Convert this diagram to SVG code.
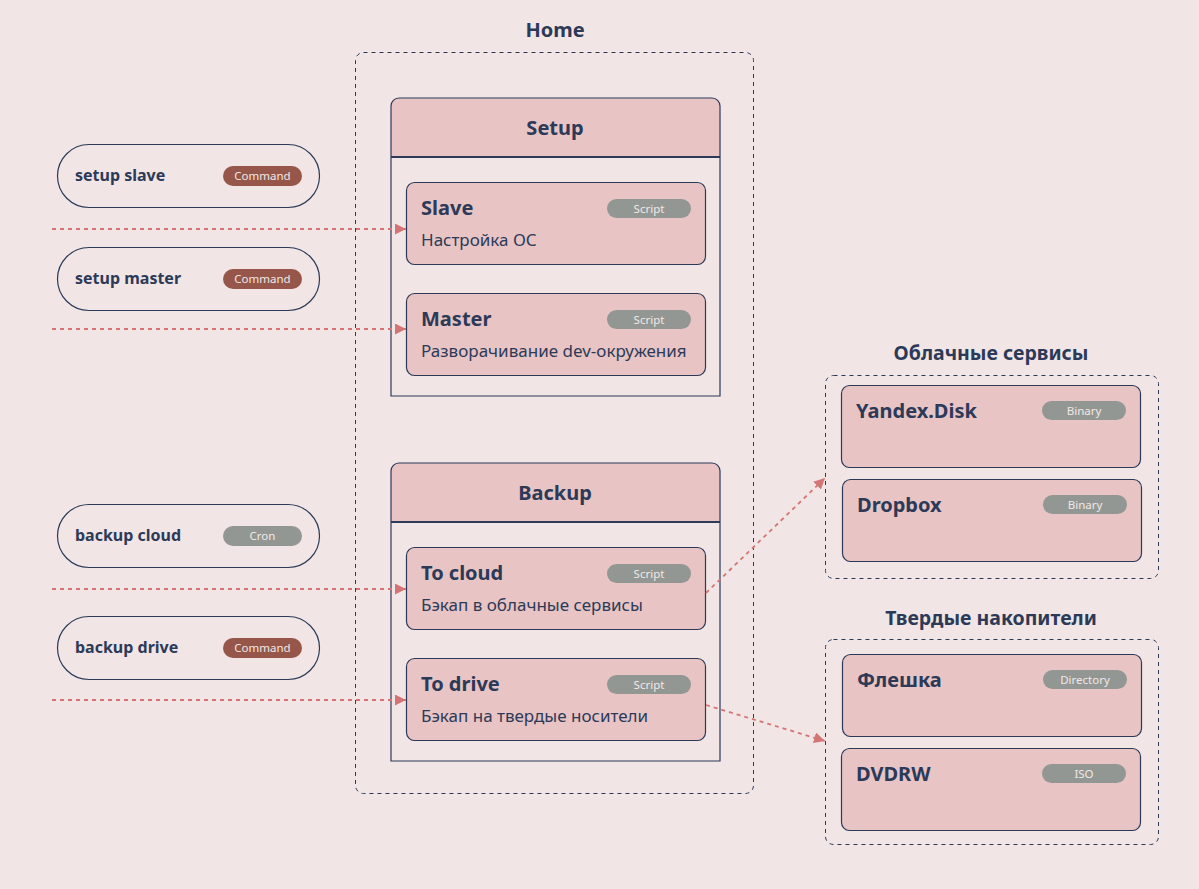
<svg xmlns="http://www.w3.org/2000/svg" width="1199" height="889" viewBox="0 0 1199 889">
<defs>
<marker id="ah" viewBox="0 0 11 11" refX="11" refY="5.5" markerWidth="11" markerHeight="11" markerUnits="userSpaceOnUse" orient="auto">
<path d="M0,0 L11,5.5 L0,11 z" fill="#d47575"/>
</marker>
<style>
text{font-family:"Noto Sans","Open Sans","DejaVu Sans",sans-serif;fill:#2c3a58}
.t{font-size:20px;font-weight:700}
.h{font-size:20px;font-weight:700;text-anchor:middle}
.gt{font-size:19.5px;font-weight:700;text-anchor:middle}
.p{font-size:16px;font-weight:700}
.d{font-size:17px}
.bt{font-size:11.5px;fill:#f1e8e6;text-anchor:middle}
.dash{fill:none;stroke:#2c3a58;stroke-width:1;stroke-dasharray:4 4}
.card{fill:#e8c4c4;stroke:#2c3a58;stroke-width:1.2}
.pill{fill:none;stroke:#2c3a58;stroke-width:1.2}
.cont{fill:none;stroke:#2c3a58;stroke-width:1.2}
.hd{fill:#e8c4c4}
.g{fill:#939793}
.r{fill:#96574a}
.c{fill:none;stroke:#d47575;stroke-width:1.8;stroke-dasharray:4 4;marker-end:url(#ah)}
</style>
</defs>
<rect width="1199" height="889" fill="#f1e5e5"/>

<g id="home">
<text class="h" x="555" y="37">Home</text>
<rect class="dash" x="355.5" y="52.5" width="398" height="741" rx="8"/>
</g>

<g id="setup">
<path class="hd" d="M391,157 V106 a8,8 0 0 1 8,-8 H712 a8,8 0 0 1 8,8 V157 z"/>
<path class="cont" d="M391,396 V106 a8,8 0 0 1 8,-8 H712 a8,8 0 0 1 8,8 V396 z"/>
<line x1="391" y1="157" x2="720" y2="157" stroke="#2c3a58" stroke-width="2"/>
<text class="h" x="555" y="135">Setup</text>
</g>
<g id="slave">
<rect class="card" x="406.5" y="182.5" width="299" height="82" rx="8"/>
<text class="t" x="421" y="215">Slave</text>
<rect class="g" x="607" y="199" width="84" height="19" rx="9.5"/>
<text class="bt" x="649" y="212.5">Script</text>
<text class="d" x="421" y="246">Настройка ОС</text>
</g>
<g id="master">
<rect class="card" x="406.5" y="293.5" width="299" height="82" rx="8"/>
<text class="t" x="421" y="326">Master</text>
<rect class="g" x="607" y="310" width="84" height="19" rx="9.5"/>
<text class="bt" x="649" y="323.5">Script</text>
<text class="d" x="421" y="357">Разворачивание dev-окружения</text>
</g>

<g id="backup">
<path class="hd" d="M391,522 V471 a8,8 0 0 1 8,-8 H712 a8,8 0 0 1 8,8 V522 z"/>
<path class="cont" d="M391,761 V471 a8,8 0 0 1 8,-8 H712 a8,8 0 0 1 8,8 V761 z"/>
<line x1="391" y1="522" x2="720" y2="522" stroke="#2c3a58" stroke-width="2"/>
<text class="h" x="555" y="500">Backup</text>
</g>
<g id="tocloud">
<rect class="card" x="406.5" y="547.5" width="299" height="82" rx="8"/>
<text class="t" x="421" y="580">To cloud</text>
<rect class="g" x="607" y="564" width="84" height="19" rx="9.5"/>
<text class="bt" x="649" y="577.5">Script</text>
<text class="d" x="421" y="611">Бэкап в облачные сервисы</text>
</g>
<g id="todrive">
<rect class="card" x="406.5" y="658.5" width="299" height="82" rx="8"/>
<text class="t" x="421" y="691">To drive</text>
<rect class="g" x="607" y="675" width="84" height="19" rx="9.5"/>
<text class="bt" x="649" y="688.5">Script</text>
<text class="d" x="421" y="722">Бэкап на твердые носители</text>
</g>

<g id="setupslave">
<rect class="pill" x="57.5" y="144.5" width="262" height="63" rx="31.5"/>
<text class="p" x="75" y="181">setup slave</text>
<rect class="r" x="223" y="166" width="79" height="20" rx="10"/>
<text class="bt" x="262.5" y="180">Command</text>
</g>
<g id="setupmaster">
<rect class="pill" x="57.5" y="247.5" width="262" height="63" rx="31.5"/>
<text class="p" x="75" y="284">setup master</text>
<rect class="r" x="223" y="269" width="79" height="20" rx="10"/>
<text class="bt" x="262.5" y="283">Command</text>
</g>
<g id="backupcloud">
<rect class="pill" x="57.5" y="504.5" width="262" height="63" rx="31.5"/>
<text class="p" x="75" y="541">backup cloud</text>
<rect class="g" x="223" y="526" width="79" height="20" rx="10"/>
<text class="bt" x="262.5" y="540">Cron</text>
</g>
<g id="backupdrive">
<rect class="pill" x="57.5" y="616.5" width="262" height="63" rx="31.5"/>
<text class="p" x="75" y="653">backup drive</text>
<rect class="r" x="223" y="638" width="79" height="20" rx="10"/>
<text class="bt" x="262.5" y="652">Command</text>
</g>

<g id="cloudgroup">
<text class="gt" x="991" y="360">Облачные сервисы</text>
<rect class="dash" x="825.5" y="375.5" width="333" height="203" rx="8"/>
</g>
<g id="yandex">
<rect class="card" x="841.5" y="385.5" width="299" height="82" rx="8"/>
<text class="t" x="856" y="418">Yandex.Disk</text>
<rect class="g" x="1042" y="401" width="84" height="19" rx="9.5"/>
<text class="bt" x="1084" y="414.5">Binary</text>
</g>
<g id="dropbox">
<rect class="card" x="842.5" y="479.5" width="299" height="82" rx="8"/>
<text class="t" x="857" y="512">Dropbox</text>
<rect class="g" x="1043" y="495" width="84" height="19" rx="9.5"/>
<text class="bt" x="1085" y="508.5">Binary</text>
</g>

<g id="drivegroup">
<text class="gt" x="991" y="625">Твердые накопители</text>
<rect class="dash" x="825.5" y="639.5" width="333" height="205" rx="8"/>
</g>
<g id="flash">
<rect class="card" x="842.5" y="654.5" width="299" height="82" rx="8"/>
<text class="t" x="857" y="687">Флешка</text>
<rect class="g" x="1043" y="670" width="84" height="19" rx="9.5"/>
<text class="bt" x="1085" y="683.5">Directory</text>
</g>
<g id="dvdrw">
<rect class="card" x="841.5" y="748.5" width="299" height="82" rx="8"/>
<text class="t" x="856" y="781">DVDRW</text>
<rect class="g" x="1042" y="764" width="84" height="19" rx="9.5"/>
<text class="bt" x="1084" y="777.5">ISO</text>
</g>

<g id="connectors">
<line class="c" x1="52" y1="229" x2="406" y2="229"/>
<line class="c" x1="52" y1="329" x2="406" y2="329"/>
<line class="c" x1="52" y1="589" x2="406" y2="589"/>
<line class="c" x1="52" y1="700" x2="406" y2="700"/>
<line class="c" x1="706" y1="593" x2="825" y2="478"/>
<line class="c" x1="706" y1="705" x2="825" y2="741"/>
</g>
</svg>
